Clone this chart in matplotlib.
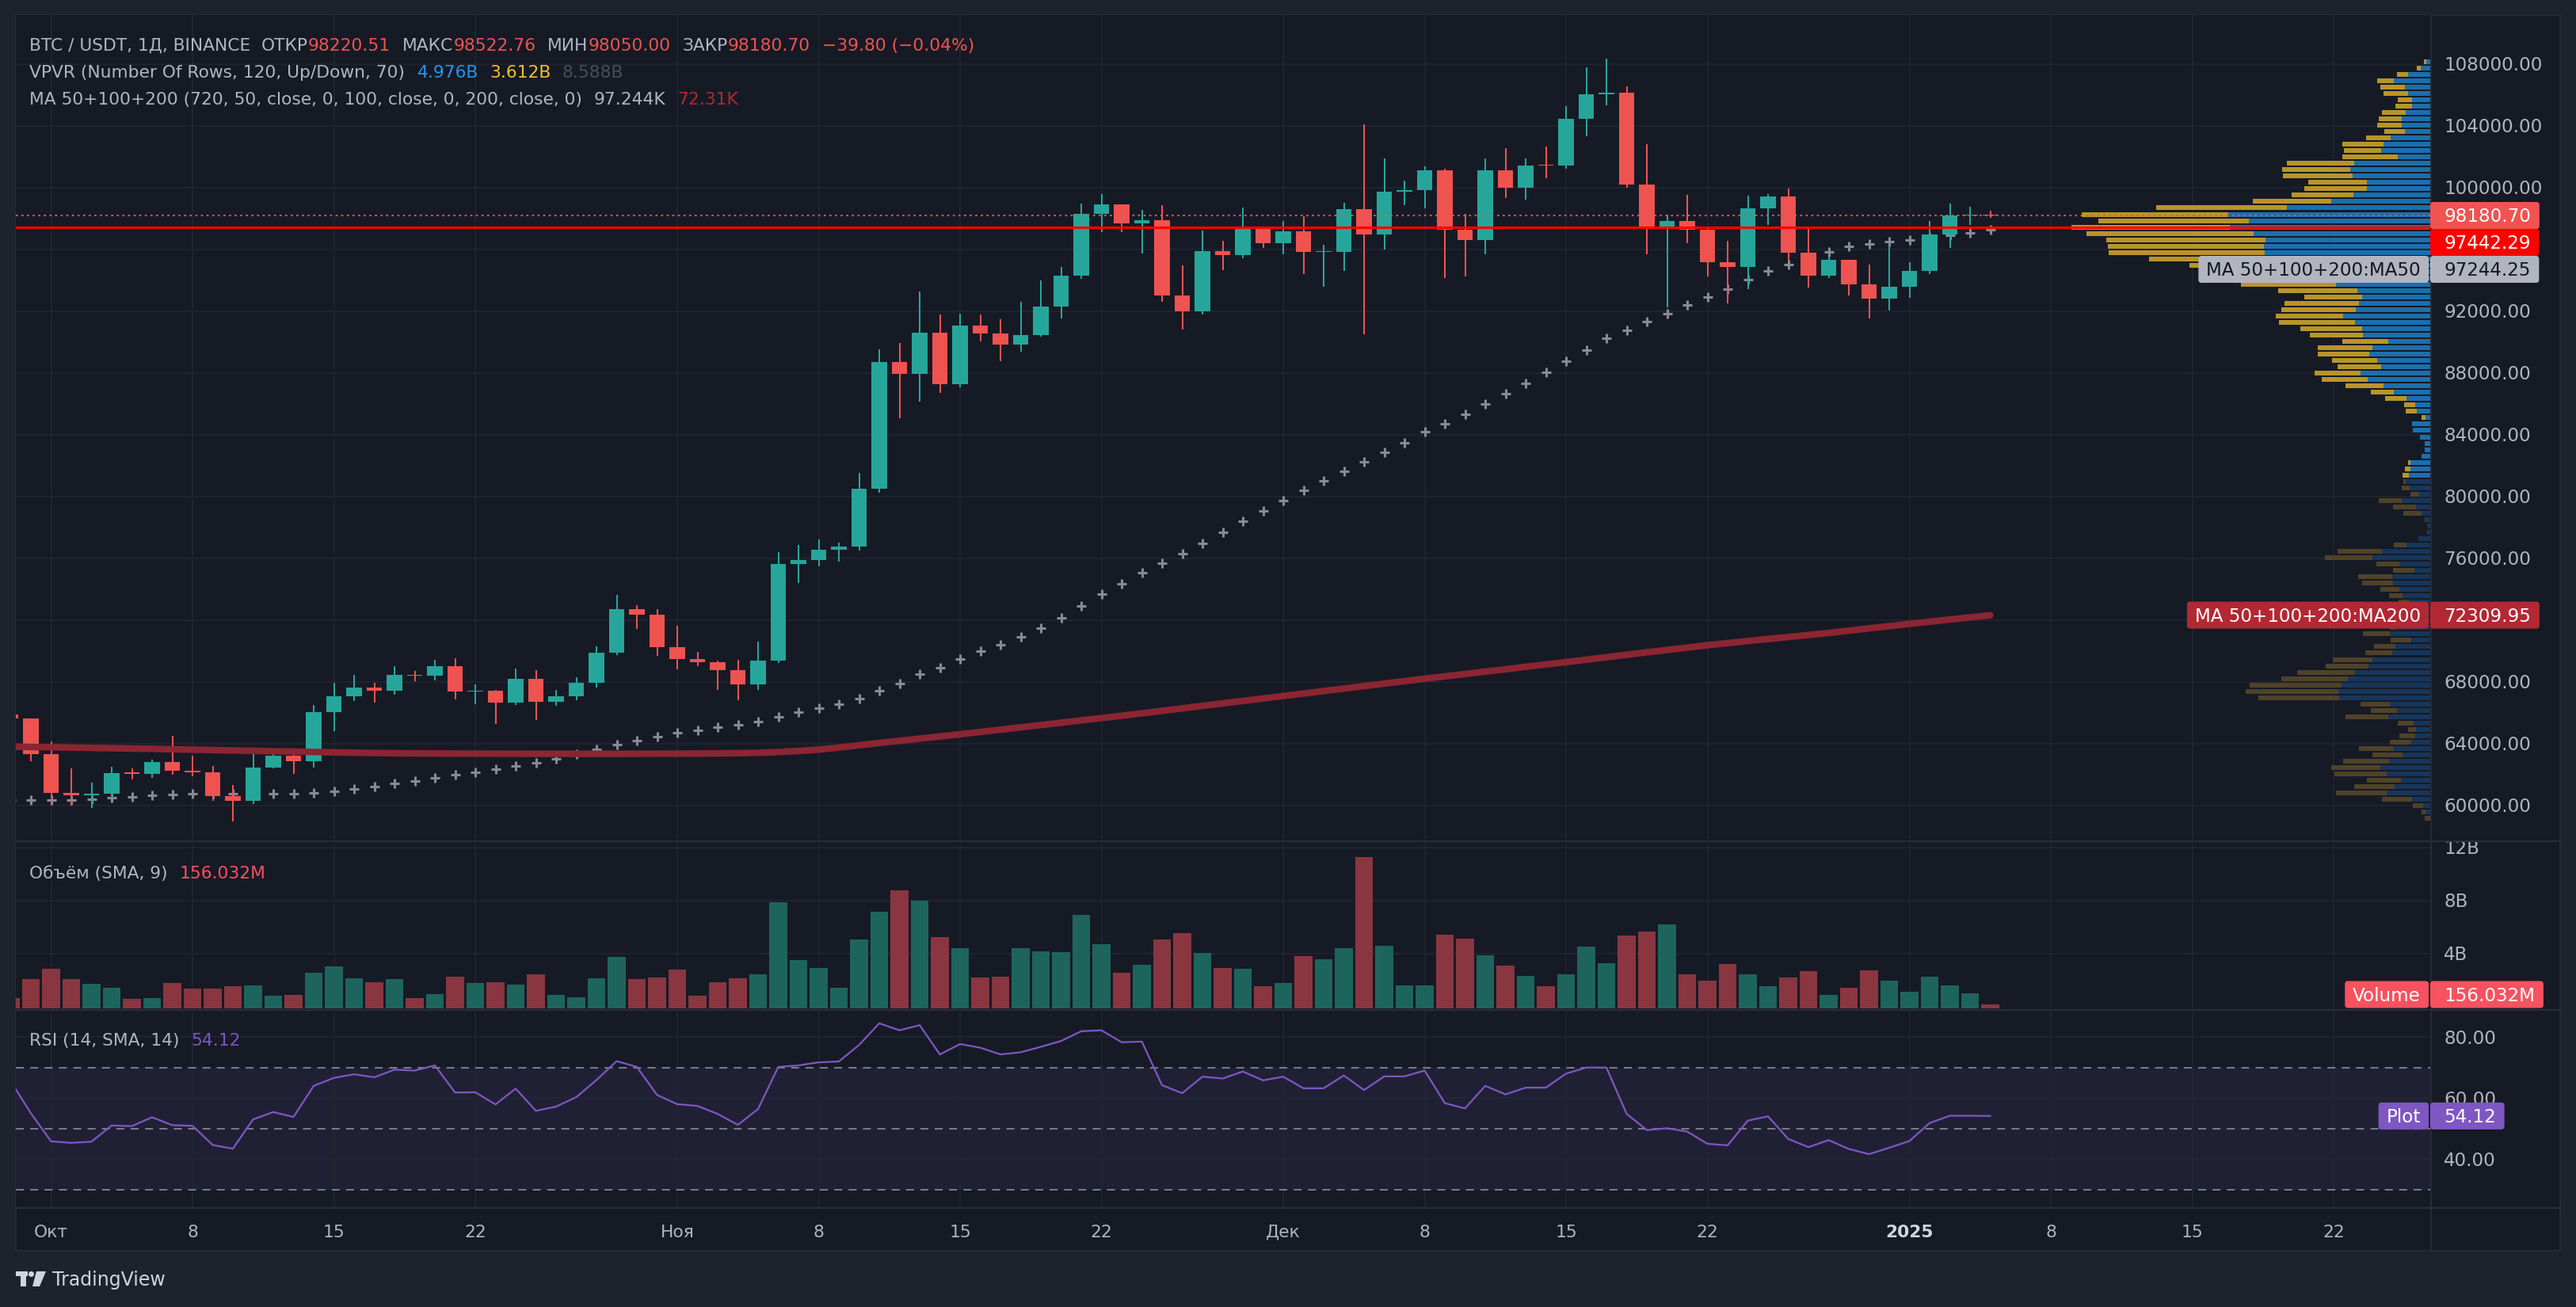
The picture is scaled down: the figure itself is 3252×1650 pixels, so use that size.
import numpy as np
import pandas as pd
import matplotlib
matplotlib.use('Agg')
import matplotlib.pyplot as plt
import matplotlib.transforms as mtransforms
from matplotlib.patches import FancyBboxPatch, Rectangle, Polygon, Ellipse

# # # # # # # # # # # # # # # #
#            Data             #
# # # # # # # # # # # # # # # #

dates = pd.date_range('2024-09-29', '2025-01-05', freq='D')

opens = [65887, 65602,
         63327, 60805, 60649, 60752, 62086, 62058, 62819, 62224, 62131, 60582,
         60274, 62445, 63193, 62851, 66046, 67042, 67620, 67421, 68428, 68378,
         69031, 67377, 67426, 66668, 68198, 66698, 67047, 67929, 69907, 72720, 72339,
         70216, 69482, 69289, 68741, 67811, 69359, 75639, 75904, 76545, 76778,
         80474, 88701, 87955, 90584, 87250, 91066, 90558, 89845, 90464, 92310,
         94286, 98317, 98892, 97672, 97900, 93010, 91965, 95863, 95643, 97460,
         96407, 97185, 95840, 95849, 98587, 96945, 99740, 99831, 101109, 97276,
         96593, 101125, 100000, 101424, 101420, 104463, 106058, 106133, 100204, 97461,
         97805, 97291, 95186, 94881, 98663, 99429, 95792, 94299, 95300, 93738, 92792,
         93576, 94591, 96984, 98174, 98220.51]
highs = [66076, 65618,
         64130, 62370, 61470, 62484, 62370, 62975, 64478, 63200, 62543, 61320,
         63417, 63480, 63285, 66500, 67950, 68424, 67939, 69000, 68693, 69400,
         69519, 67836, 67472, 68850, 68771, 67454, 68300, 70270, 73620, 72961, 72700,
         71632, 69914, 69361, 69433, 70577, 76400, 76849, 77199, 76999, 81500,
         89530, 89956, 93265, 91765, 91850, 91779, 91467, 92594, 94002, 94831,
         98967, 99588, 98908, 98564, 98871, 94973, 97208, 96564, 98693, 97463,
         97836, 98130, 96305, 99000, 104088, 101898, 100439, 101350, 101215, 98270,
         101888, 102540, 101895, 102650, 105250, 107793, 108353, 106524, 102800, 98233,
         99540, 97448, 96538, 99487, 99570, 99940, 97350, 95525, 95340, 95024, 96300,
         95149, 97839, 98976, 98734, 98522.76]
lows = [65420, 62856,
        60164, 59981, 59828, 60459, 61689, 61798, 62000, 61860, 60300, 58946,
        60087, 62418, 62050, 62422, 64800, 66750, 66666, 67177, 68010, 68100,
        66840, 66571, 65260, 66510, 65520, 66439, 66800, 67618, 69730, 71436, 69685,
        68820, 69000, 67478, 66803, 67458, 69200, 74416, 75462, 75773, 76492,
        80216, 85072, 86127, 86682, 87073, 90057, 88741, 89376, 90357, 91500,
        94081, 97122, 97136, 95734, 92600, 90791, 91792, 94640, 95407, 96092,
        95693, 94395, 93578, 94587, 90500, 95981, 98844, 98657, 94150, 94256,
        95658, 99311, 99205, 100609, 101237, 103333, 105321, 100000, 95700, 92232,
        96398, 94250, 92520, 93400, 97596, 95199, 93500, 94115, 93009, 91530, 92034,
        92870, 94392, 96100, 97562, 98050.00]
closes = [65602, 63327,
          60805, 60649, 60752, 62086, 62058, 62819, 62224, 62131, 60582, 60274,
          62445, 63193, 62851, 66046, 67042, 67620, 67421, 68428, 68378, 69031,
          67377, 67426, 66668, 68198, 66698, 67047, 67929, 69907, 72720, 72339, 70216,
          69482, 69289, 68741, 67811, 69359, 75639, 75904, 76545, 76778, 80474,
          88701, 87955, 90584, 87250, 91066, 90558, 89845, 90464, 92310, 94286,
          98317, 98892, 97672, 97900, 93010, 91965, 95863, 95643, 97460, 96407,
          97185, 95840, 95849, 98587, 96945, 99740, 99831, 101109, 97276, 96593,
          101125, 100000, 101424, 101420, 104463, 106058, 106133, 100204, 97461, 97805,
          97291, 95186, 94881, 98663, 99429, 95792, 94299, 95300, 93738, 92792, 93576,
          94591, 96984, 98174, 98220, 98180.70]

# volume, billions of USDT
volumes = [0.64, 2.05,
           2.83, 2.05, 1.69, 1.39, 0.56, 0.62, 1.75, 1.33, 1.33, 1.51,
           1.57, 0.80, 0.86, 2.53, 3.00, 2.11, 1.81, 2.05, 0.62, 0.92,
           2.23, 1.75, 1.81, 1.63, 2.41, 0.86, 0.68, 2.11, 3.72, 2.05, 2.17,
           2.77, 0.80, 1.81, 2.11, 2.41, 7.84, 3.48, 2.89, 1.39, 5.03,
           7.12, 8.74, 7.96, 5.21, 4.38, 2.17, 2.23, 4.38, 4.14, 4.08,
           6.89, 4.68, 2.53, 3.12, 5.03, 5.51, 4.02, 2.89, 2.83, 1.51,
           1.75, 3.78, 3.54, 4.38, 11.24, 4.56, 1.57, 1.57, 5.39, 5.09,
           3.84, 3.06, 2.29, 1.51, 2.41, 4.50, 3.24, 5.33, 5.63, 6.17,
           2.41, 1.93, 3.18, 2.41, 1.51, 2.17, 2.65, 0.86, 1.39, 2.71, 1.93,
           1.09, 2.23, 1.57, 0.98, 0.156]

ma50 = [60350, 60359,
        60359, 60359, 60410, 60513, 60564, 60667, 60718, 60769, 60769, 60769,
        60769, 60769, 60769, 60821, 60923, 61077, 61231, 61436, 61590, 61795,
        62000, 62154, 62359, 62564, 62769, 63026, 63333, 63641, 63949, 64205, 64462,
        64718, 64872, 65077, 65231, 65436, 65744, 66051, 66310, 66566, 66922,
        67433, 67904, 68473, 68925, 69454, 69965, 70416, 70907, 71495, 72143,
        72908, 73674, 74361, 75067, 75695, 76304, 76971, 77697, 78404, 79071,
        79738, 80405, 81014, 81622, 82250, 82878, 83467, 84170, 84691, 85309,
        85984, 86659, 87335, 88010, 88770, 89473, 90232, 90767, 91301, 91836,
        92398, 92933, 93439, 94058, 94592, 95014, 95436, 95830, 96168, 96365, 96505,
        96618, 96758, 96899, 97068, 97244.25]

ma200 = [63800, 63780,
         63760, 63740, 63720, 63700, 63680, 63655, 63630, 63605, 63580, 63555,
         63530, 63505, 63480, 63455, 63430, 63410, 63390, 63375, 63365, 63355,
         63350, 63345, 63340, 63338, 63335, 63335, 63333, 63333, 63335, 63337, 63340,
         63345, 63352, 63362, 63378, 63400, 63450, 63520, 63610, 63740, 63890,
         64040, 64180, 64320, 64460, 64600, 64750, 64900, 65050, 65200, 65350,
         65500, 65650, 65800, 65960, 66120, 66280, 66440, 66600, 66760, 66920,
         67080, 67240, 67400, 67560, 67720, 67880, 68040, 68200, 68350, 68500,
         68660, 68810, 68970, 69120, 69275, 69430, 69590, 69750, 69910, 70060,
         70210, 70370, 70500, 70640, 70770, 70900, 71030, 71160, 71310, 71460, 71600,
         71750, 71890, 72030, 72170, 72309.95]

rsi = [65.5, 55.0,
       45.8, 45.3, 45.7, 51.0, 50.8, 53.7, 51.1, 50.9, 44.6, 43.4,
       53.0, 55.4, 53.8, 64.0, 66.6, 67.8, 66.8, 69.3, 69.0, 70.7,
       61.8, 61.9, 57.9, 63.1, 55.8, 57.2, 60.3, 65.9, 72.1, 70.2, 61.0,
       58.0, 57.4, 54.8, 51.2, 56.4, 70.2, 70.7, 71.7, 72.0, 77.4,
       84.5, 82.2, 83.9, 74.3, 77.7, 76.5, 74.3, 75.0, 76.8, 78.7,
       81.9, 82.2, 78.3, 78.5, 64.2, 61.6, 67.0, 66.4, 68.7, 65.8,
       67.0, 63.2, 63.2, 67.4, 62.6, 67.1, 67.1, 69.0, 58.3, 56.6,
       64.0, 61.2, 63.4, 63.4, 68.0, 70.0, 70.0, 54.8, 49.5, 50.1,
       49.0, 45.0, 44.5, 52.6, 54.0, 46.6, 43.9, 46.2, 43.3, 41.6, 43.7,
       45.9, 51.8, 54.2, 54.2, 54.12]

# volume profile, 120 rows from the top price row down (relative volume)
vp_up = [13, 29, 68, 111, 77, 68, 56, 56, 75, 87, 87, 77, 121, 142, 150, 99,
         231, 243, 236, 193, 193, 234, 301, 436, 614, 551, 609, 537, 501, 506,
         503, 436, 400, 360, 330, 287, 222, 207, 217, 227, 265, 229, 207, 205,
         128, 176, 186, 162, 150, 212, 190, 142, 111, 73, 46, 41, 15, 56, 53,
         32, 17, 17, 27, 61, 61, 65, 75, 63, 34, 87, 44, 27, 15, 10, 10, 37,
         73, 147, 176, 94, 48, 116, 114, 94, 85, 63, 60, 70, 70, 100, 123, 58,
         106, 116, 176, 188, 229, 251, 270, 279, 277, 123, 102, 128, 51, 44,
         46, 58, 114, 85, 126, 152, 133, 89, 109, 133, 56, 22, 15, 0]
vp_down = [7, 12, 34, 51, 75, 74, 43, 50, 72, 70, 75, 63, 74, 125, 113, 168,
           205, 207, 212, 178, 190, 187, 238, 397, 445, 457, 481, 507, 483, 473,
           474, 418, 332, 290, 270, 288, 240, 176, 226, 226, 204, 231, 188, 161,
           139, 166, 156, 137, 132, 140, 140, 116, 70, 65, 34, 34, 12, 0, 0,
           0, 0, 0, 0, 7, 16, 20, 7, 24, 27, 70, 70, 55, 2, 0, 0, 0,
           38, 135, 144, 70, 66, 103, 93, 58, 41, 34, 40, 50, 40, 23, 82, 63,
           65, 82, 120, 130, 176, 202, 279, 282, 245, 89, 79, 130, 48, 24,
           48, 65, 103, 91, 139, 149, 158, 104, 122, 154, 91, 31, 12, 17]
va_rows = (0, 65)

h_line_price = 97442.29
last_price = 98180.70

tick_dates = pd.to_datetime(['2024-10-01', '2024-10-08', '2024-10-15', '2024-10-22',
                             '2024-11-01', '2024-11-08', '2024-11-15', '2024-11-22',
                             '2024-12-01', '2024-12-08', '2024-12-15', '2024-12-22',
                             '2025-01-01', '2025-01-08', '2025-01-15', '2025-01-22'])
tick_labels = ['Окт', '8', '15', '22', 'Ноя', '8', '15', '22',
               'Дек', '8', '15', '22', '2025', '8', '15', '22']
price_ticks = list(range(60000, 108001, 4000))
vol_ticks = [4, 8, 12]
rsi_ticks = [40, 60, 80]

# # # # # # # # # # # # # # # #
#           Styles            #
# # # # # # # # # # # # # # # #

W, H, DPI = 3252, 1650, 100
FRAME = '#1e222d'
PANE = '#161a25'
GRID = '#232733'
BORDER = '#2a2e39'
TEXT = '#b2b5be'
UP = '#26a69a'
DOWN = '#ef5350'

plt.rcParams['font.family'] = ['DejaVu Sans']

fig = plt.figure(figsize=(W / DPI, H / DPI), dpi=DPI, facecolor=FRAME)
r = fig.canvas.get_renderer()


def fr(x0, y0, x1, y1):
    # pixel box (top-left origin) -> figure fraction rect
    return [x0 / W, 1 - y1 / H, (x1 - x0) / W, (y1 - y0) / H]


fig.add_artist(Rectangle((20 / W, 1 - 1579 / H), 3212 / W, 1560 / H,
                         transform=fig.transFigure, facecolor=PANE,
                         edgecolor=BORDER, lw=1.2, zorder=-5))

ax = fig.add_axes(fr(20, 19, 3068, 1060))
axv = fig.add_axes(fr(20, 1063, 3068, 1273.3))
axr = fig.add_axes(fr(20, 1276, 3068, 1524))

x = np.array((dates - pd.Timestamp('2024-10-01')).days, dtype=float)
xt = np.array((tick_dates - pd.Timestamp('2024-10-01')).days, dtype=float)
xlim = ((20 - 64.5) / 25.5, (3068 - 64.5) / 25.5)

for a in (ax, axv, axr):
    a.set_facecolor(PANE)
    a.set_xlim(*xlim)
    for s in a.spines.values():
        s.set_visible(False)
    a.set_xticks([])
    a.set_yticks([])
    for xv in xt:
        a.axvline(xv, color=GRID, lw=1.1, zorder=0.5)

ax.set_ylim(57779, 111164)
axv.set_ylim(-0.155, 12.4)
axr.set_ylim(24.21, 88.62)

for p in price_ticks:
    ax.axhline(p, color=GRID, lw=1.1, zorder=0.5)
for v in vol_ticks:
    axv.axhline(v, color=GRID, lw=1.1, zorder=0.5)
for v in rsi_ticks:
    axr.axhline(v, color=GRID, lw=1.1, zorder=0.5)

# volume profile
blend = mtransforms.blended_transform_factory(ax.transAxes, ax.transData)
vp_hi, vp_lo = max(highs), min(lows)
row_h = (vp_hi - vp_lo) / len(vp_up)
scale = (453.0 / 3048.0) / max(u + d for u, d in zip(vp_up, vp_down))
for k, (u, d) in enumerate(zip(vp_up, vp_down)):
    inside = va_rows[0] <= k <= va_rows[1]
    c_up = '#1b6fae' if inside else '#17355a'
    c_dn = '#b89529' if inside else '#4f4228'
    yc = vp_hi - (k + 0.5) * row_h
    bh = row_h * 0.75
    ax.add_patch(Rectangle((1 - u * scale, yc - bh / 2), u * scale, bh,
                           transform=blend, facecolor=c_up, lw=0, zorder=1.5))
    ax.add_patch(Rectangle((1 - (u + d) * scale, yc - bh / 2), d * scale, bh,
                           transform=blend, facecolor=c_dn, lw=0, zorder=1.5))

# candles
o = np.array(opens)
c = np.array(closes)
colors = [UP if cc >= oo else DOWN for oo, cc in zip(o, c)]
body = np.maximum(np.abs(c - o), 60)
ax.vlines(x, lows, highs, colors=colors, lw=1.45, zorder=3)
ax.bar(x, body, bottom=np.minimum(o, c), width=0.78, color=colors, lw=0, zorder=3.1)

# moving averages
ax.plot(x, ma50, ls='none', marker='+', ms=8.6, mew=2.2, color='#878a94', zorder=2.5)
ax.plot(x, ma200, color='#8b2532', lw=6, solid_capstyle='round', zorder=4)

ax.axhline(last_price, color='#f05350', lw=1.5, ls=(0, (1.2, 2.2)), zorder=5)
ax.axhline(h_line_price, color='#ff0000', lw=2.3, zorder=5)

# volume pane
vol_colors = ['#1d645d' if cc >= oo else '#893640' for oo, cc in zip(o, c)]
axv.bar(x, np.array(volumes) + 0.155, bottom=-0.155, width=0.9, color=vol_colors, lw=0, zorder=2)

# rsi pane
axr.axhspan(30, 70, color='#7e57c2', alpha=0.1, lw=0, zorder=0.4)
for lvl in (30, 50, 70):
    axr.axhline(lvl, color='#787b86', lw=1.45, ls=(0, (5, 4)), zorder=1)
axr.plot(x, rsi, color='#7e57c2', lw=1.6, zorder=3)

# frame lines
for yy in (1061.5, 1274.6, 1524.5):
    fig.add_artist(plt.Line2D([20 / W, 3232 / W], [1 - yy / H] * 2, transform=fig.transFigure,
                              color=BORDER, lw=1.5, zorder=6))
fig.add_artist(plt.Line2D([3068.5 / W] * 2, [1 - 19 / H, 1 - 1579 / H], transform=fig.transFigure,
                          color=BORDER, lw=1.2, zorder=6))

# # # # # # # # # # # # # # # #
#            Texts            #
# # # # # # # # # # # # # # # #


def px_text(xp, yc, s, size, color, ha='left', weight='normal', z=11):
    size_px = size * DPI / 72.0
    base = yc + 0.729 * size_px / 2.0
    return fig.text(xp / W, 1 - base / H, s, fontsize=size, color=color, ha=ha,
                    va='baseline', fontweight=weight, zorder=z)


def ypx(a, v):
    return H - a.transData.transform((0, v))[1]


def xpx(a, v):
    return a.transData.transform((v, 0))[0]


def text_row(xp, yc, pieces, size=15.7):
    for s, color, gap in pieces:
        t = px_text(xp, yc, s, size, color)
        xp = t.get_window_extent(r).x1 + gap


def box(x0, y0, x1, y1, color):
    fig.add_artist(FancyBboxPatch((x0 / W, 1 - y1 / H), (x1 - x0) / W, (y1 - y0) / H,
                                  boxstyle='round,pad=0,rounding_size=0.0012',
                                  mutation_aspect=W / H, transform=fig.transFigure,
                                  facecolor=color, edgecolor='none', zorder=10))


tag_spans = []


def tag(yc, value, bg, fg='white', name=None):
    t = px_text(3085, yc, value, 16.6, fg, z=12)
    box(3068, yc - 17, t.get_window_extent(r).x1 + 11, yc + 17, bg)
    tag_spans.append((yc - 17, yc + 17))
    if name:
        t2 = px_text(3056, yc, name, 16.6, fg, ha='right', z=12)
        box(t2.get_window_extent(r).x0 - 10, yc - 17, 3066, yc + 17, bg)


def hidden(yc):
    # the price scale hides labels that sit under a tag
    return any(y0 - 6 < yc < y1 + 6 for y0, y1 in tag_spans)


text_row(36.5, 55.8, [('BTC / USDT, 1Д, BINANCE', TEXT, 14), ('ОТКР', TEXT, 0),
                      ('98220.51', DOWN, 15), ('МАКС', TEXT, 0), ('98522.76', DOWN, 15),
                      ('МИН', TEXT, 0), ('98050.00', DOWN, 15), ('ЗАКР', TEXT, 0),
                      ('98180.70', DOWN, 15), ('−39.80 (−0.04%)', DOWN, 0)])
text_row(36.5, 90, [('VPVR (Number Of Rows, 120, Up/Down, 70)', TEXT, 17),
                    ('4.976B', '#2196f3', 14), ('3.612B', '#f5c027', 14),
                    ('8.588B', '#4a4d57', 0)])
text_row(36.5, 124.2, [('MA 50+100+200 (720, 50, close, 0, 100, close, 0, 200, close, 0)', TEXT, 15),
                       ('97.244K', TEXT, 15), ('72.31K', '#b22833', 0)])
text_row(37, 1100.8, [('Объём (SMA, 9)', TEXT, 15), ('156.032M', '#f7525f', 0)])
text_row(37, 1312.5, [('RSI (14, SMA, 14)', TEXT, 15), ('54.12', '#7e57c2', 0)])

tag(272, f'{last_price:.2f}', '#f05350')
tag(306, f'{h_line_price:.2f}', '#ff0000')
tag(340, f'{ma50[-1]:.2f}', '#b2b5be', fg='#131722', name='MA 50+100+200:MA50')
tag(776.5, f'{ma200[-1]:.2f}', '#b22833', name='MA 50+100+200:MA200')
tag(1255.5, '156.032M', '#f7525f', name='Volume')
tag(ypx(axr, rsi[-1]), f'{rsi[-1]:.2f}', '#7e57c2', name='Plot')

for p in price_ticks:
    if not hidden(ypx(ax, p)):
        px_text(3085, ypx(ax, p), f'{p:.2f}', 16.6, TEXT, z=4)
for v in vol_ticks:
    px_text(3085, ypx(axv, v), f'{v}B', 16.6, TEXT, z=4)
for v in rsi_ticks:
    px_text(3085, ypx(axr, v), f'{v:.2f}', 16.6, TEXT, z=4)

for xv, lab in zip(xt, tick_labels):
    bold = lab == '2025'
    px_text(xpx(axr, xv), 1553.8, lab, 15.7, '#d1d4dc' if bold else TEXT,
            ha='center', weight='bold' if bold else 'normal')

# TradingView logo
LOGO = '#d1d4dc'
fig.add_artist(Rectangle((20 / W, 1 - 1611 / H), 15 / W, 6 / H, transform=fig.transFigure,
                         facecolor=LOGO, lw=0, zorder=10))
fig.add_artist(Rectangle((26 / W, 1 - 1624 / H), 7 / W, 13 / H, transform=fig.transFigure,
                         facecolor=LOGO, lw=0, zorder=10))
fig.add_artist(Ellipse((39.5 / W, 1 - 1608.5 / H), 7 / W, 7 / H, transform=fig.transFigure,
                       facecolor=LOGO, lw=0, zorder=10))
fig.add_artist(Polygon([(46 / W, 1 - 1605 / H), (58 / W, 1 - 1605 / H),
                        (50 / W, 1 - 1624 / H), (41 / W, 1 - 1624 / H)],
                       closed=True, transform=fig.transFigure, facecolor=LOGO, lw=0, zorder=10))
px_text(66, 1614.5, 'TradingView', 17, LOGO)

fig.savefig('out.png', dpi=DPI, facecolor=FRAME)
